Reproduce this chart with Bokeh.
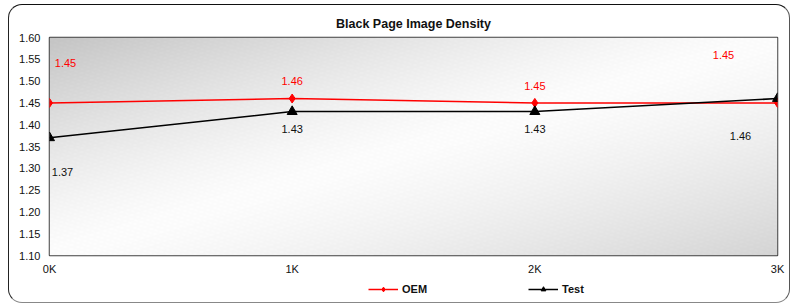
import numpy as np
from bokeh.plotting import figure
from bokeh.layouts import column
from bokeh.models import ColumnDataSource, Legend, LegendItem, FixedTicker, Range1d
from bokeh.core.properties import value
from bokeh.embed import file_html
from bokeh.resources import INLINE

# ---- data ----
x_labels = ["0K", "1K", "2K", "3K"]
oem = [1.45, 1.46, 1.45, 1.45]
test = [1.37, 1.43, 1.43, 1.46]
y_ticks = [1.10, 1.15, 1.20, 1.25, 1.30, 1.35, 1.40, 1.45, 1.50, 1.55, 1.60]
series_names = ["OEM", "Test"]

# label offsets in screen pixels (style only)
oem_dx = [16, 0, 0, -54]
oem_dy = [-40, -18, -17, -48]
test_dx = [13, 0, 0, -37]
test_dy = [34, 17, 17, 37]

xs = list(range(len(x_labels)))
FONT = "Liberation Sans"

p = figure(width=780, height=272, output_backend="svg", toolbar_location=None,
           x_range=Range1d(0, 3), y_range=Range1d(1.10, 1.60),
           min_border_left=40, min_border_right=12, min_border_top=32, min_border_bottom=21,
           title="Black Page Image Density")

p.title.align = "center"
p.title.text_font = FONT
p.title.text_font_size = "12.5px"
p.title.text_font_style = "bold"
p.title.text_color = "#111111"
p.title.offset = 0
p.title.standoff = 14

# gradient background inside the frame
W, H = 728, 219
u = np.linspace(0, 1, W)[None, :]
v = np.linspace(1, 0, H)[:, None]
t = (u + v) / 2.0
lo = 252 - (252 - 196) * np.clip(1 - 2 * t, 0, 1) ** 1.3
hi = 252 - (252 - 212) * np.clip(2 * t - 1, 0, 1) ** 1.3
g = np.where(t < 0.5, lo, hi)
py_ = np.arange(H)[:, None]
px_ = np.arange(W)[None, :]
stripe = (((px_ * 0.3 + py_) % 4) < 1) & (((px_ - py_ * 3) % 10) < 6)
g = np.clip(g + stripe * 4, 0, 255).astype(np.uint32)
img = (np.uint32(255) << np.uint32(24)) | (g << np.uint32(16)) | (g << np.uint32(8)) | g
p.image_rgba(image=[img.astype(np.uint32)], x=0, y=1.10, dw=3, dh=0.5)

p.grid.visible = False
p.outline_line_color = "#404040"
p.outline_line_width = 1.5
p.background_fill_color = "white"
p.border_fill_color = None

for ax in (p.xaxis, p.yaxis):
    ax.major_tick_line_color = None
    ax.minor_tick_line_color = None
    ax.major_tick_out = 0
    ax.major_tick_in = 0
    ax.minor_tick_out = 0
    ax.minor_tick_in = 0
    ax.axis_line_color = None
    ax.major_label_text_font = FONT
    ax.major_label_text_font_size = "11px"
    ax.major_label_text_color = "#111111"

p.xaxis.ticker = FixedTicker(ticks=xs)
p.xaxis.major_label_overrides = {i: s for i, s in enumerate(x_labels)}
p.xaxis.major_label_standoff = 7
p.yaxis.ticker = FixedTicker(ticks=y_ticks)
p.yaxis.major_label_overrides = {t_: f"{t_:.2f}" for t_ in y_ticks}
p.yaxis.major_label_standoff = 9

src = ColumnDataSource(dict(x=xs, oem=oem, test=test,
                            oem_lbl=[f"{v_:.2f}" for v_ in oem],
                            test_lbl=[f"{v_:.2f}" for v_ in test],
                            oem_dx=oem_dx, oem_dy=oem_dy, test_dx=test_dx, test_dy=test_dy))

p.line("x", "oem", source=src, line_color="#ff0000", line_width=1.5)
p.scatter("x", "oem", source=src, marker="diamond", size=9, color="#ff0000")
p.line("x", "test", source=src, line_color="black", line_width=1.5)
p.scatter("x", "test", source=src, marker="triangle", size=10, color="black")

p.text("x", "oem", text="oem_lbl", source=src, x_offset="oem_dx", y_offset="oem_dy",
       text_align="center", text_baseline="middle", text_color="#ff0000",
       text_font=value(FONT), text_font_size="11px")
p.text("x", "test", text="test_lbl", source=src, x_offset="test_dx", y_offset="test_dy",
       text_align="center", text_baseline="middle", text_color="#111111",
       text_font=value(FONT), text_font_size="11px")

# legend strip (separate small figure beneath the chart; its series are kept out of view)
leg = figure(width=780, height=25, output_backend="svg", toolbar_location=None,
             x_axis_location=None, y_axis_location=None,
             x_range=Range1d(0, 3), y_range=Range1d(-2, -1),
             min_border_left=0, min_border_right=0, min_border_top=0, min_border_bottom=0)
leg.grid.visible = False
leg.outline_line_color = None
leg.border_fill_color = None
leg.background_fill_color = None
r1 = [leg.line("x", "oem", source=src, line_color="#ff0000", line_width=1.5),
      leg.scatter("x", "oem", source=src, marker="diamond", size=9, color="#ff0000")]
r2 = [leg.line("x", "test", source=src, line_color="black", line_width=1.5),
      leg.scatter("x", "test", source=src, marker="triangle", size=10, color="black")]
legend = Legend(items=[LegendItem(label=series_names[0], renderers=r1),
                       LegendItem(label=series_names[1], renderers=r2)],
                orientation="horizontal", location=(319, 7),
                glyph_width=30, glyph_height=12, label_standoff=4, spacing=101,
                padding=2, margin=0, border_line_color=None, background_fill_alpha=0,
                label_text_font=FONT, label_text_font_size="11px",
                label_text_font_style="bold", label_text_color="#111111")
leg.add_layout(legend, "center")

layout = column(p, leg, spacing=0)
layout.styles = {"border": "1px solid", "border-color": "#111 #555 #888 #222",
                 "border-radius": "14px", "margin-left": "8px", "margin-top": "4px"}

open("out.html", "w").write(file_html(layout, INLINE))
